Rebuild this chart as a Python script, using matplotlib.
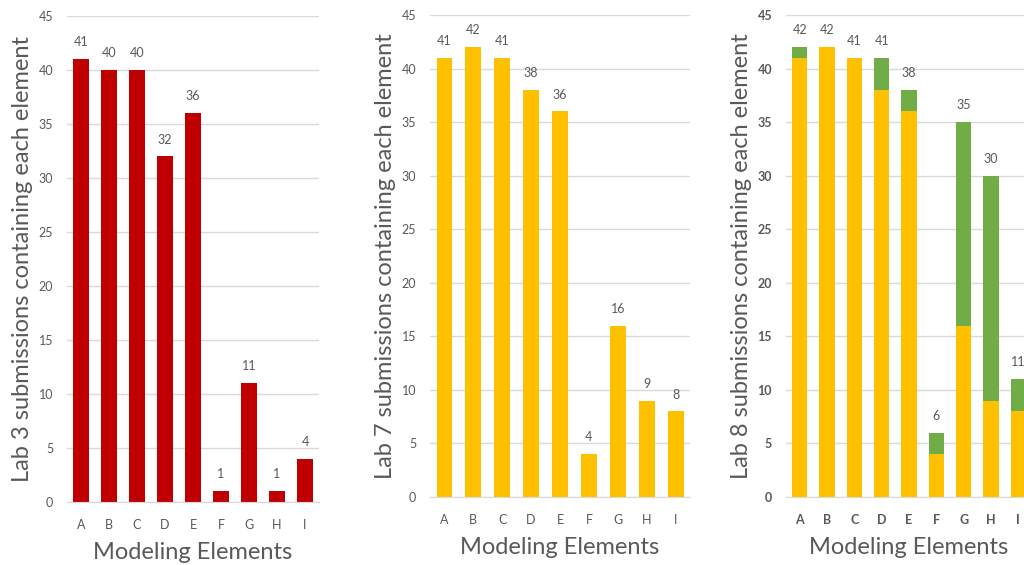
import numpy as np
import matplotlib
matplotlib.use("Agg")
import matplotlib.pyplot as plt

plt.rcParams["font.family"] = ["Lato", "DejaVu Sans"]

elements = ["A", "B", "C", "D", "E", "F", "G", "H", "I"]
lab3 = [41, 40, 40, 32, 36, 1, 11, 1, 4]
lab7 = [41, 42, 41, 38, 36, 4, 16, 9, 8]
lab8_base = [41, 42, 41, 38, 36, 4, 16, 9, 8]
lab8_extra = [1, 0, 0, 3, 2, 2, 19, 21, 3]

RED = "#C00000"
YELLOW = "#FFC000"
GREEN = "#70AD47"
TXT = "#595959"
GRID = "#D9D9D9"

W, H = 1024, 565
fig = plt.figure(figsize=(W / 100, H / 100), dpi=100)


def px_axes(left, bottom, width, height):
    return fig.add_axes([left / W, bottom / H, width / W, height / H])


def style(ax, ylabel, bold=False):
    x = np.arange(len(elements))
    ax.set_xlim(-0.5, len(elements) - 0.5)
    ax.set_ylim(0, 45)
    ax.set_yticks(range(0, 46, 5))
    ax.set_xticks(x)
    ax.set_xticklabels(elements, fontweight="bold" if bold else "normal")
    ax.yaxis.grid(True, color=GRID, lw=1)
    ax.set_axisbelow(True)
    for s in ["top", "right", "left"]:
        ax.spines[s].set_visible(False)
    ax.spines["bottom"].set_color(GRID)
    ax.tick_params(axis="both", length=0, colors=TXT, labelsize=9)
    ax.tick_params(axis="x", pad=12)
    ax.tick_params(axis="y", pad=10)
    for t in ax.get_yticklabels():
        t.set_fontweight("bold" if bold else "normal")
    ax.set_ylabel(ylabel, fontsize=17, color=TXT, labelpad=4)
    ax.set_xlabel("Modeling Elements", fontsize=17, color=TXT, labelpad=8)


def labels(ax, totals):
    for i, v in enumerate(totals):
        ax.text(i, v + 1.0, str(v), ha="center", va="bottom", fontsize=9, color=TXT)


x = np.arange(len(elements))
bw = 0.55

ax1 = px_axes(67, 63, 252, 486)
ax1.bar(x, lab3, width=bw, color=RED)
labels(ax1, lab3)
style(ax1, "Lab 3 submissions containing each element")

ax2 = px_axes(430, 68, 260, 482)
ax2.bar(x, lab7, width=bw, color=YELLOW)
labels(ax2, lab7)
style(ax2, "Lab 7 submissions containing each element")

ax3 = px_axes(786, 68, 246, 482)
ax3.bar(x, lab8_base, width=bw, color=YELLOW)
ax3.bar(x, lab8_extra, width=bw, bottom=lab8_base, color=GREEN)
labels(ax3, [b + e for b, e in zip(lab8_base, lab8_extra)])
style(ax3, "Lab 8 submissions containing each element", bold=True)

fig.savefig("out.png", dpi=100)
